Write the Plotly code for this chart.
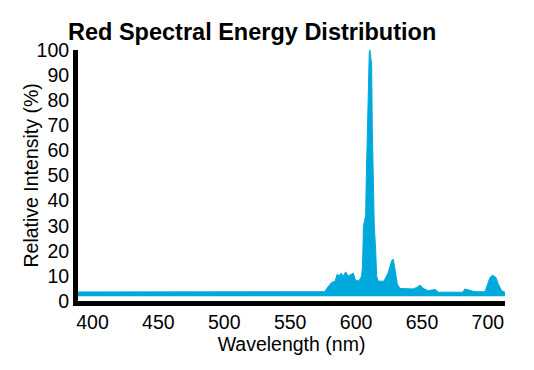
import plotly.graph_objects as go

# ---- data ----
wavelength_nm = [389, 576.4, 577.7, 581.5, 584.0, 585.7, 587.3, 588.5, 590.3, 592.1,
                 594.1, 595.9, 597.9, 599.7, 602.4, 604.2, 604.9, 605.6, 606.2,
                 607.3, 607.6, 608.5, 609.3, 610.0, 610.5, 611.2, 611.8, 612.3,
                 613.1, 613.8, 614.9, 615.6, 616.6, 620.6, 621.9, 624.4, 627.0,
                 628.2, 629.5, 631.3, 633.3, 643.4, 646.0, 648.5, 651.0, 654.8,
                 658.6, 660.6, 662.4, 680.9, 682.6, 684.4, 686.9, 690.2, 697.8,
                 699.5, 701.6, 703.6, 706.1, 707.9, 710.5, 713]
intensity_pct = [3.6, 3.7, 5.0, 7.4, 7.8, 10.7, 10.0, 11.1, 10.0, 11.6,
                 10.0, 10.4, 11.1, 8.1, 8.1, 10.0, 14.0, 30.0, 32.0,
                 34.0, 45.0, 68.6, 93.0, 99.0, 100.0, 97.0, 93.8, 68.6,
                 44.8, 30.0, 20.0, 10.0, 8.0, 7.8, 8.7, 11.4, 16.0,
                 16.7, 12.7, 6.7, 5.0, 4.8, 5.4, 6.3, 5.0, 4.1,
                 4.5, 4.5, 3.5, 3.5, 4.8, 4.5, 4.1, 3.7, 3.7,
                 6.1, 9.4, 10.3, 9.4, 6.7, 4.1, 3.5]
floor_wavelength = [389, 713]
floor_pct = [1.9, 1.9]

y_ticks = [0, 10, 20, 30, 40, 50, 60, 70, 80, 90, 100]
x_ticks = [400, 450, 500, 550, 600, 650, 700]

BLUE = "#00A9DC"
BODY_FONT = "Liberation Sans, Arial, Helvetica, sans-serif"
TITLE_FONT = "Liberation Sans, Arial, Helvetica, sans-serif"

fig = go.Figure()
fig.add_trace(go.Scatter(x=floor_wavelength, y=floor_pct, mode="lines",
                         line=dict(color=BLUE, width=0), hoverinfo="skip",
                         showlegend=False))
fig.add_trace(go.Scatter(x=wavelength_nm, y=intensity_pct, mode="lines",
                         line=dict(color=BLUE, width=1), fill="tonexty",
                         fillcolor=BLUE, showlegend=False))

fig.add_annotation(text="Relative Intensity (%)", textangle=-90,
                   xref="paper", yref="paper", x=-0.1124, y=0.5,
                   xanchor="center", yanchor="middle", showarrow=False,
                   font=dict(family=BODY_FONT, size=19.5, color="black"))

fig.update_layout(
    width=534, height=370,
    margin=dict(l=70, r=37, t=42, b=77, autoexpand=False),
    paper_bgcolor="white", plot_bgcolor="white",
    font=dict(family=BODY_FONT, size=19.5, color="black"),
    title=dict(text="<b>Red Spectral Energy Distribution</b>",
               font=dict(family=TITLE_FONT, size=23.5, color="black"),
               x=60 / 534, xref="container", xanchor="left",
               y=1 - 24 / 370, yref="container", yanchor="middle",
               automargin=False),
    xaxis=dict(range=[389, 713], tickvals=x_ticks, showgrid=False, zeroline=False,
               showline=True, linecolor="black", linewidth=5, ticks="",
               automargin=False,
               tickfont=dict(size=19.5), title=dict(text="Wavelength (nm)",
               font=dict(size=19.5), standoff=4)),
    yaxis=dict(range=[0, 100], tickvals=y_ticks, showgrid=False, zeroline=False,
               showline=True, linecolor="black", linewidth=5, ticks="",
               automargin=False, tickfont=dict(size=19.5)),
)

fig.write_html("out.html")
